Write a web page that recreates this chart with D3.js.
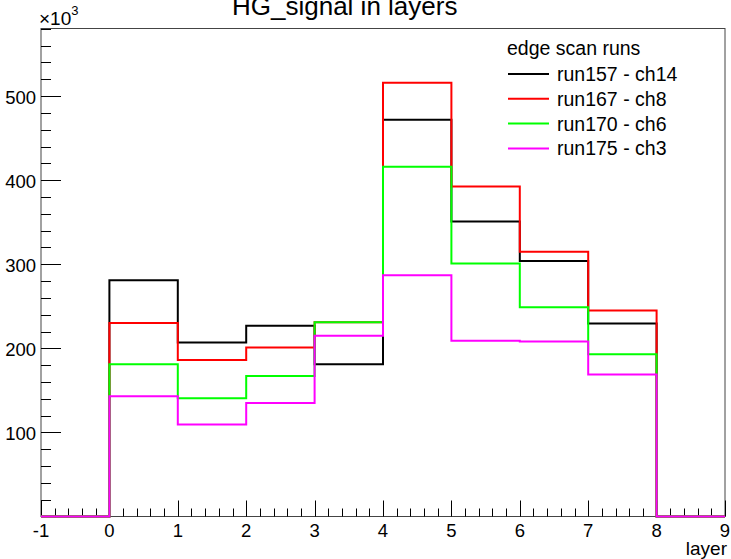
<!DOCTYPE html>
<html><head><meta charset="utf-8">
<script src="https://cdn.jsdelivr.net/npm/d3@7"></script>
<style>body{margin:0;background:#fff}svg{display:block;font-family:"Liberation Sans",Arial,sans-serif}</style>
</head><body>
<svg id="c" width="731" height="559"></svg>
<script>
// bin low edges (layer), values in units of 10^3
const binEdges = [-1, 0, 1, 2, 3, 4, 5, 6, 7, 8, 9];
const run157 = [281, 207, 227, 181, 472, 351, 304, 229.5];
const run167 = [230, 186, 201, 231, 516, 392.5, 315, 245];
const run170 = [181, 140.5, 167, 231, 416, 301, 249, 193];
const run175 = [143, 109.5, 135, 215, 287, 209, 208, 169];
const seriesNames = ["run157 - ch14", "run167 - ch8", "run170 - ch6", "run175 - ch3"];
const seriesColors = ["#000000", "#ff0000", "#00ff00", "#ff00ff"];
const xTicks = [-1, 0, 1, 2, 3, 4, 5, 6, 7, 8, 9];
const yTicks = [100, 200, 300, 400, 500];
const title = "HG_signal in layers";
const xTitle = "layer";
const legendTitle = "edge scan runs";

const svg = d3.select("#c");
const L = 41, R = 725, T = 28.5, B = 516.5;
const x = d3.scaleLinear().domain([-1, 9]).range([L, R]);
const y = d3.scaleLinear().domain([0, 580.4]).range([B, T]);
const axisCol = "#444";

// frame
svg.append("rect").attr("x", L).attr("y", T).attr("width", R - L).attr("height", B - T)
  .attr("fill", "none").attr("stroke", axisCol).attr("stroke-width", 1);

// y ticks (inward)
const yMinor = d3.range(20, 581, 20);
svg.append("g").selectAll("line").data(yMinor).join("line")
  .attr("x1", L).attr("x2", d => L + (d % 100 === 0 ? 20 : 10))
  .attr("y1", d => Math.round(y(d)) + 0.5).attr("y2", d => Math.round(y(d)) + 0.5)
  .attr("stroke", "#000").attr("stroke-width", 1);
svg.append("g").selectAll("text").data(yTicks).join("text")
  .attr("x", 36).attr("y", d => y(d) + 1).attr("text-anchor", "end")
  .attr("dominant-baseline", "central").attr("font-size", 18.5).text(d => d);

// x ticks
const xMinor = d3.range(-1, 9.001, 0.2).map(v => +v.toFixed(1));
svg.append("g").selectAll("line").data(xMinor).join("line")
  .attr("x1", d => Math.round(x(d)) + 0.5).attr("x2", d => Math.round(x(d)) + 0.5)
  .attr("y1", B).attr("y2", d => B - (Math.abs(d - Math.round(d)) < 1e-6 ? 16 : 8))
  .attr("stroke", "#000").attr("stroke-width", 1);
svg.append("g").selectAll("text").data(xTicks).join("text")
  .attr("x", d => x(d)).attr("y", 537).attr("text-anchor", "middle")
  .attr("font-size", 18.5).text(d => d);

// x title
svg.append("text").attr("x", R + 2).attr("y", 555).attr("text-anchor", "end")
  .attr("font-size", 19).text(xTitle);

// x10^3
const ex = svg.append("text").attr("x", 39).attr("y", 25).attr("font-size", 19);
ex.append("tspan").text("\u00d710");
ex.append("tspan").attr("dy", -10).attr("font-size", 13).text("3");

// title
svg.append("text").attr("x", 232).attr("y", 15).attr("font-size", 26).text(title);

// histograms
const line = d3.line().x(d => x(d[0])).y(d => y(d[1])).curve(d3.curveStepAfter);
[run157, run167, run170, run175].forEach((vals, i) => {
  const pts = [[binEdges[0], 0]];
  vals.forEach((v, j) => pts.push([binEdges[j + 1], v]));
  pts.push([binEdges[9], 0]);
  pts.push([binEdges[10], 0]);
  svg.append("path").attr("d", line(pts)).attr("fill", "none")
    .attr("stroke", seriesColors[i]).attr("stroke-width", 2);
});

// legend
svg.append("text").attr("x", 507).attr("y", 55).attr("font-size", 19.5).text(legendTitle);
seriesNames.forEach((n, i) => {
  const cy = 74 + i * 24.8;
  svg.append("line").attr("x1", 508).attr("x2", 549).attr("y1", cy).attr("y2", cy)
    .attr("stroke", seriesColors[i]).attr("stroke-width", 2);
  svg.append("text").attr("x", 557).attr("y", cy).attr("dominant-baseline", "central")
    .attr("font-size", 19.5).text(n);
});
</script>
</body></html>
